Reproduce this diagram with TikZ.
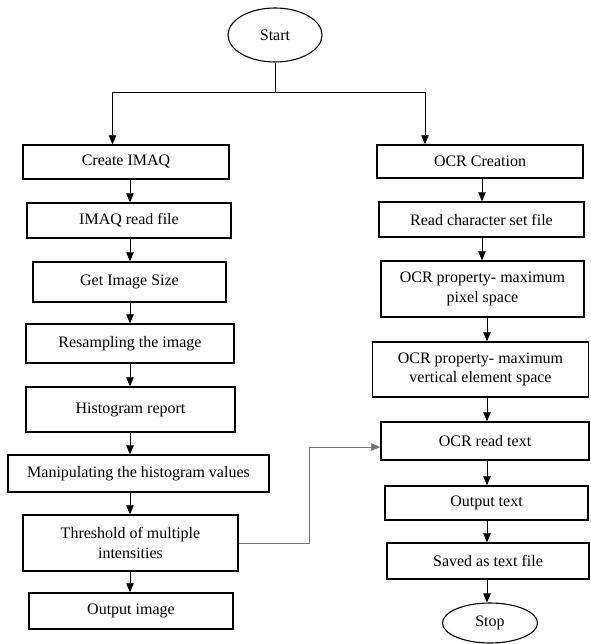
\documentclass[tikz,border=0pt]{standalone}
\usepackage{fontspec}
\newfontfamily\tnr{Liberation Serif}
\usetikzlibrary{arrows.meta,shapes.geometric}
\begin{document}
\begin{tikzpicture}[x=1pt,y=-1pt,
  box/.style={draw,line width=1.4pt,rectangle,inner sep=0pt,align=center,font=\tnr\fontsize{16}{19.5}\selectfont},
  oval/.style={draw,line width=1.1pt,ellipse,inner sep=0pt,font=\tnr\fontsize{16}{19.5}\selectfont},
  arr/.style={line width=0.8pt,-{Triangle[length=9pt,width=7.5pt]}},
  ln/.style={line width=0.8pt}]
\useasboundingbox (0,0) rectangle (590,644);
% start
\node[oval,minimum width=94pt,minimum height=54pt] (start) at (275,35) {Start};
% left column
\node[box,minimum width=206pt,minimum height=34pt] (c1) at (126,162) {Create IMAQ};
\node[box,minimum width=204pt,minimum height=35pt] (c2) at (129,220.5) {IMAQ read file};
\node[box,minimum width=193pt,minimum height=40pt] (c3) at (129.5,282) {Get Image Size};
\node[box,minimum width=208pt,minimum height=39pt] (c4) at (130,343.5) {Resampling the image};
\node[box,minimum width=209pt,minimum height=45pt] (c5) at (130.5,409.5) {Histogram report};
\node[box,minimum width=261pt,minimum height=37pt] (c6) at (138.5,473.5) {Manipulating the histogram values};
\node[box,minimum width=215pt,minimum height=56pt] (c7) at (130.5,543) {Threshold of multiple\\intensities};
\node[box,minimum width=204pt,minimum height=36pt] (c8) at (131,611) {Output image};
% right column
\node[box,minimum width=206pt,minimum height=33pt] (r1) at (480,161.5) {OCR Creation};
\node[box,minimum width=205pt,minimum height=35pt] (r2) at (481.5,219.5) {Read character set file};
\node[box,minimum width=203pt,minimum height=56pt] (r3) at (482.5,289) {OCR property- maximum\\pixel space};
\node[box,minimum width=216pt,minimum height=55pt] (r4) at (480.5,369.5) {OCR property- maximum\\vertical element space};
\node[box,minimum width=208pt,minimum height=38pt] (r5) at (485,441) {OCR read text};
\node[box,minimum width=203pt,minimum height=34pt] (r6) at (486.5,503) {Output text};
\node[box,minimum width=202pt,minimum height=36pt] (r7) at (488,561) {Saved as text file};
\node[oval,minimum width=95pt,minimum height=40pt] (stop) at (490,623) {Stop};
% split from start
\coordinate (j) at (275,92);
\coordinate (jl) at (112.5,92);
\coordinate (jr) at (425,92);
\draw[ln] (start.south) -- (j);
\draw[ln] (jl) -- (jr);
\draw[arr] (jl) -- (jl |- c1.north);
\draw[arr] (jr) -- (jr |- r1.north);
% left chain
\coordinate (lx) at (130,0);
\draw[arr] (lx |- c1.south) -- (lx |- c2.north);
\draw[arr] (lx |- c2.south) -- (lx |- c3.north);
\draw[arr] (lx |- c3.south) -- (lx |- c4.north);
\draw[arr] (lx |- c4.south) -- (lx |- c5.north);
\draw[arr] (lx |- c5.south) -- (lx |- c6.north);
\draw[arr] (lx |- c6.south) -- (lx |- c7.north);
\draw[arr] (lx |- c7.south) -- (lx |- c8.north);
% right chain
\coordinate (rx) at (482,0);
\coordinate (rx2) at (487,0);
\draw[arr] (rx |- r1.south) -- (rx |- r2.north);
\draw[arr] (rx |- r2.south) -- (rx |- r3.north);
\draw[arr] (rx2 |- r3.south) -- (rx2 |- r4.north);
\draw[arr] (rx2 |- r4.south) -- (rx2 |- r5.north);
\draw[arr] (rx2 |- r5.south) -- (rx2 |- r6.north);
\draw[arr] (rx2 |- r6.south) -- (rx2 |- r7.north);
\draw[arr] (rx2 |- r7.south) -- (rx2 |- stop.north);
% feedback
\coordinate (f1) at (309,543);
\coordinate (f2) at (309,447);
\draw[ln,draw=black!55] (c7.east |- f1) -- (f1) -- (f2);
\draw[arr,draw=black!55] (f2) -- (f2 -| r5.west);
\end{tikzpicture}
\end{document}
